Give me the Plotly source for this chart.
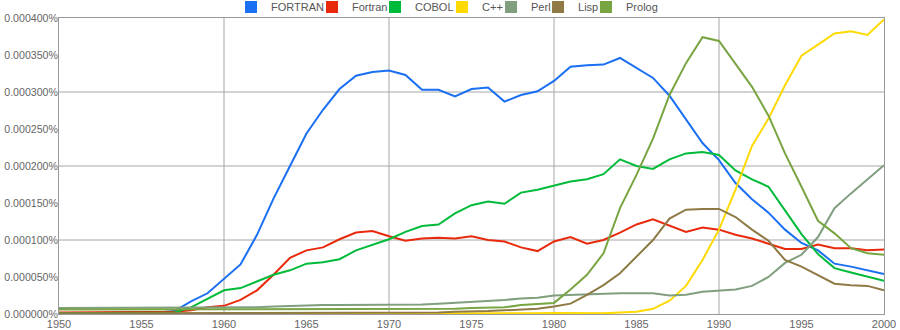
import plotly.graph_objects as go

# values in units of 1e-6 percent (0.000100% == 100)
years = list(range(1950, 2001))

FORTRAN = [1, 1, 1, 1, 1, 1, 2, 4, 17, 28,
           47, 67, 107, 156, 200, 244, 276, 304, 322, 327,
           329, 323, 303, 303, 294, 304, 306, 287, 296, 301,
           315, 334, 336, 337, 346, 333, 319, 295, 263, 231,
           208, 177, 155, 137, 114, 96, 86, 68, 64, 59,
           54]
Fortran = [2, 2, 2, 2, 2, 2, 2, 3, 5, 9,
           11, 19, 32, 53, 76, 86, 90, 101, 110, 112,
           105, 99, 102, 103, 102, 105, 100, 98, 90, 85,
           98, 104, 95, 100, 110, 121, 128, 120, 111, 117,
           114, 107, 102, 95, 88, 88, 94, 89, 89, 86,
           87]
COBOL = [1, 1, 1, 1, 1, 1, 1, 2, 9, 21,
         32, 35, 44, 53, 59, 68, 70, 74, 86, 93,
         101, 111, 119, 121, 136, 147, 152, 149, 164, 168,
         174, 179, 182, 189, 209, 200, 196, 209, 217, 219,
         215, 194, 182, 172, 140, 108, 81, 62, 56, 50,
         45]
Cpp = [0, 0, 0, 0, 0, 0, 0, 0, 0, 0,
       0, 0, 0, 0, 0, 0, 0, 0, 0, 0,
       0, 0, 0, 0, 0, 0.3, 0.5, 0.6, 0.8, 1,
       1.2, 1, 1, 1, 2, 3, 7, 18, 38, 73,
       114, 168, 227, 264, 309, 349, 364, 379, 382, 377,
       398]
Perl = [8, 8, 8, 8, 8, 8, 8, 8, 8, 8,
        8, 9, 9, 10, 11, 11, 12, 12, 12, 12,
        13, 12, 13, 14, 15, 16, 18, 19, 21, 22,
        25, 26, 27, 27, 28, 28, 28, 25, 26, 30,
        32, 33, 38, 50, 69, 80, 104, 143, 163, 182,
        201]
Lisp = [1, 1, 1, 1, 1, 1, 1, 1, 1, 1,
        1, 1, 1, 1, 1, 1, 1, 1, 1, 1,
        2, 2, 2, 2, 3, 3, 4, 5, 6, 7,
        10, 14, 26, 39, 55, 77, 100, 129, 141, 142,
        142, 131, 114, 99, 73, 64, 53, 41, 39, 38,
        32]
Prolog = [6, 6, 6, 6, 6, 6, 6, 6, 6, 6,
          6, 6, 6, 6, 6, 6, 6, 6, 6, 6,
          7, 7, 7, 7, 7, 8, 8, 9, 12, 13,
          15, 33, 53, 82, 143, 188, 237, 296, 339, 374,
          369, 338, 307, 268, 217, 172, 126, 109, 89, 82,
          80]

series_names = ["FORTRAN", "Fortran", "COBOL", "C++", "Perl", "Lisp", "Prolog"]
series_values = [FORTRAN, Fortran, COBOL, Cpp, Perl, Lisp, Prolog]
colors = ["#1a6ff2", "#e8290b", "#00bb3a", "#ffd900", "#7f9f7f", "#8f7a45", "#78a441"]
legend_widths = [36, 18, 22, 4, 2, 3, 31]

y_tick_vals = [0, 50, 100, 150, 200, 250, 300, 350, 400]
y_tick_text = ["0.000000%", "0.000050%", "0.000100%", "0.000150%", "0.000200%",
               "0.000250%", "0.000300%", "0.000350%", "0.000400%"]
y_grid_vals = [100, 200, 300]
x_tick_vals = list(range(1950, 2001, 5))
x_grid_vals = [1960, 1970, 1980, 1990]

SCALE = 1e-6

fig = go.Figure()
for name, vals, col in zip(series_names, series_values, colors):
    fig.add_trace(go.Scatter(
        x=years, y=[v * SCALE for v in vals], mode="lines", name=name,
        line=dict(color=col, width=2), showlegend=False, hoverinfo="x+y+name"))

for name, col, lw in zip(series_names, colors, legend_widths):
    fig.add_trace(go.Scatter(
        x=[None], y=[None], mode="markers", name=name,
        marker=dict(symbol="square", size=12, color=col),
        legendwidth=lw, showlegend=True))

grid_col = "#a6a6a6"
for v in y_grid_vals:
    fig.add_hline(y=v * SCALE, line=dict(color=grid_col, width=1), layer="below")
for v in x_grid_vals:
    fig.add_vline(x=v, line=dict(color=grid_col, width=1), layer="below")

font_family = "Liberation Sans, Arial, sans-serif"
fig.update_layout(
    width=900, height=330,
    margin=dict(l=59, r=16, t=18, b=16, autoexpand=False),
    paper_bgcolor="white", plot_bgcolor="white",
    font=dict(family=font_family, size=11, color="#666666"),
    showlegend=True,
    legend=dict(orientation="h", xref="container", yref="container",
                x=0.2567, xanchor="left", y=0.9788, yanchor="middle",
                font=dict(size=11, color="#555555"), bgcolor="rgba(0,0,0,0)",
                itemclick=False, itemdoubleclick=False),
    xaxis=dict(range=[1950, 2000], tickvals=x_tick_vals, showgrid=False, zeroline=False,
               showline=True, linecolor="#999999", linewidth=1, mirror=True, ticks="",
               automargin=False, tickfont=dict(size=11, color="#666666")),
    yaxis=dict(range=[0, 400 * SCALE], tickvals=[v * SCALE for v in y_tick_vals],
               ticktext=y_tick_text, showgrid=False, zeroline=False,
               showline=True, linecolor="#999999", linewidth=1, mirror=True, ticks="",
               ticklabelstandoff=-2,
               automargin=False, tickfont=dict(size=10.6, color="#666666")),
)

fig.write_html("out.html")
